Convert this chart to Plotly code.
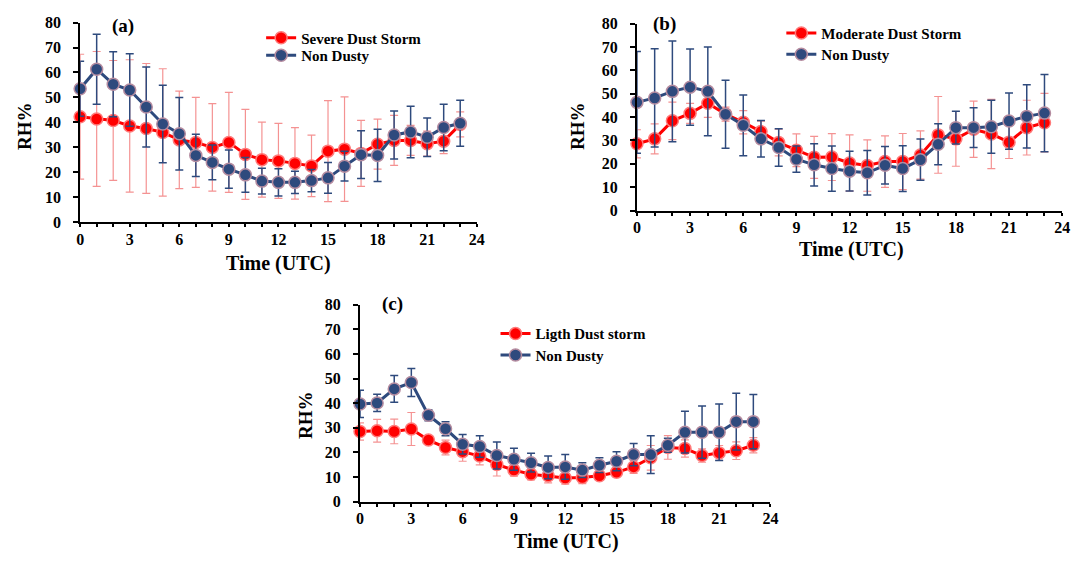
import plotly.graph_objects as go

hours = list(range(24))
x_tickvals = [0, 3, 6, 9, 12, 15, 18, 21, 24]
y_tickvals = [0, 10, 20, 30, 40, 50, 60, 70, 80]

# Panel (a)
a_severe = [42.3, 41.4, 40.8, 38.6, 37.6, 36.0, 33.0, 32.0, 30.0, 32.0, 27.2, 25.1,
            24.6, 23.6, 22.6, 28.5, 29.3, 27.6, 31.3, 32.8, 32.8, 31.5, 32.5, 39.2]
a_severe_err = [25, 27, 24, 26.5, 26, 25.5, 19.5, 18, 17.5, 20, 18, 15,
                15, 14.3, 12.3, 20.2, 20.9, 13.2, 10, 10, 6, 5, 5, 5]
a_non = [53.5, 61.3, 55.3, 53.0, 46.2, 39.4, 35.5, 26.8, 24.0, 21.3, 19.0, 16.5,
         16.0, 16.0, 16.7, 17.8, 22.5, 27.1, 26.8, 35.0, 36.2, 34.1, 38.0, 39.7]
a_non_err = [11, 14, 13, 14.5, 16, 15.5, 14.5, 8.5, 7, 7.7, 7, 5.2,
             5.5, 4.5, 4.5, 6.2, 6, 9.6, 10.5, 9.6, 10.3, 7.7, 9.3, 9.2]

# Panel (b)
b_mod = [28.6, 30.7, 38.4, 41.6, 45.9, 41.3, 37.8, 33.8, 29.1, 25.8, 22.8, 22.9,
         20.4, 19.3, 21.0, 21.0, 23.8, 32.4, 30.7, 34.8, 32.8, 29.3, 35.5, 37.6]
b_mod_err = [6, 6.4, 8, 4.3, 6, 3, 5, 4.5, 5.7, 7, 9, 10,
             12, 11, 11, 12, 10.3, 16.4, 11.7, 12, 14.8, 7, 11.7, 12.5]
b_non = [46.3, 48.2, 51.0, 52.8, 51.0, 41.2, 36.5, 30.7, 27.0, 22.0, 19.6, 18.0,
         16.9, 16.2, 19.4, 18.0, 21.8, 28.4, 35.5, 35.5, 35.9, 38.3, 40.3, 41.7]
b_non_err = [21.7, 21, 21.5, 16.3, 19, 14.5, 13, 7.8, 8, 5.6, 9, 9.7,
             8.5, 9.5, 8, 9.8, 8.8, 8.8, 7, 8.5, 11.3, 12, 13.5, 16.5]

# Panel (c)
c_light = [28.5, 28.8, 28.5, 29.5, 25.0, 22.0, 20.3, 18.5, 15.1, 12.8, 11.1, 10.5,
           9.6, 9.8, 10.5, 11.9, 14.1, 17.8, 22.0, 21.6, 18.7, 19.8, 20.7, 22.9]
c_light_err = [3.5, 4.6, 5, 6.7, 1.5, 3, 3.9, 3.6, 4.7, 2.5, 2.3, 2.9,
               2.5, 2.5, 1.5, 2, 2.6, 5, 4.8, 3.5, 2.7, 3, 3.6, 3.1]
c_non = [39.7, 40.1, 45.8, 48.4, 35.1, 29.6, 23.3, 22.4, 18.7, 17.2, 15.8, 13.9,
         14.1, 12.8, 14.8, 16.4, 19.1, 19.1, 22.9, 28.2, 28.2, 28.2, 32.5, 32.5]
c_non_err = [5.5, 3.5, 5.4, 5.7, 2.2, 2.8, 4, 4.4, 5.5, 4.5, 3.8, 4.6,
             5, 3, 3, 3.9, 4.5, 7.7, 2.8, 8.5, 10.6, 11.5, 11.5, 11]

W, H = 1088, 562
FONT = "Liberation Serif"
RED = "#FF0000"
BLUE = "#2E4A7D"

panels = [
    dict(name="(a)", dust=a_severe, dust_err=a_severe_err, non=a_non, non_err=a_non_err,
         dust_label="Severe Dust Storm", px=(77, 478), py=(221, 15),
         legend=(260, 14, 32), label_pos=(120, 19), ytitle=(21, 122), xtitle=(278, 263)),
    dict(name="(b)", dust=b_mod, dust_err=b_mod_err, non=b_non, non_err=b_non_err,
         dust_label="Moderate Dust Storm", px=(640, 1070), py=(209, 16),
         legend=(786, 9, 31), label_pos=(668, 16), ytitle=(580, 122), xtitle=(857, 249)),
    dict(name="(c)", dust=c_light, dust_err=c_light_err, non=c_non, non_err=c_non_err,
         dust_label="Ligth Dust storm", px=(360, 775), py=(509, 306),
         legend=(497, 319, 341), label_pos=(393, 305), ytitle=(305, 420), xtitle=(569, 550)),
]

fig = go.Figure()
annotations = []
layout_extra = {}

for i, p in enumerate(panels):
    idx = "" if i == 0 else str(i + 1)
    xa, ya = "x" + idx, "y" + idx
    leg_d = "legend" + ("" if i == 0 else str(2 * i + 1))
    leg_n = "legend" + str(2 * i + 2)
    fig.add_trace(go.Scatter(
        x=hours, y=p["dust"], mode="lines+markers", name=p["dust_label"],
        xaxis=xa, yaxis=ya, legend=leg_d, cliponaxis=False,
        line=dict(color=RED, width=3),
        marker=dict(color=RED, size=12, line=dict(color="#FF7A7A", width=1.5)),
        error_y=dict(type="data", array=p["dust_err"], visible=True,
                     color="rgba(240,110,110,0.75)", thickness=1.2, width=4),
    ))
    fig.add_trace(go.Scatter(
        x=hours, y=p["non"], mode="lines+markers", name="Non Dusty",
        xaxis=xa, yaxis=ya, legend=leg_n, cliponaxis=False,
        line=dict(color=BLUE, width=3),
        marker=dict(color=BLUE, size=12, line=dict(color="#B58CA0", width=1.5)),
        error_y=dict(type="data", array=p["non_err"], visible=True,
                     color=BLUE, thickness=1.5, width=4),
    ))
    x0, x1 = p["px"]
    yb, yt = p["py"]
    layout_extra["xaxis" + idx] = dict(
        domain=[x0 / W, x1 / W], anchor=ya, range=[0, 24],
        tickvals=x_tickvals, ticks="outside", ticklen=3, tickwidth=1.5, tickcolor="black",
        minor=dict(dtick=1, ticks="outside", ticklen=3, tickwidth=1.5, tickcolor="black"),
        showline=True, linewidth=2, linecolor="black", showgrid=False, zeroline=False,
        ticklabelstandoff=-2,
        tickfont=dict(family=FONT, size=16, color="black", weight="bold"),
    )
    layout_extra["yaxis" + idx] = dict(
        domain=[1 - yb / H, 1 - yt / H], anchor=xa, range=[0, 80],
        tickvals=y_tickvals, ticks="outside", ticklen=5, tickwidth=1.5, tickcolor="black",
        showline=True, linewidth=2, linecolor="black", showgrid=False, zeroline=False,
        ticklabelstandoff=9,
        tickfont=dict(family=FONT, size=16, color="black", weight="bold"),
    )
    lx, ly1, ly2 = p["legend"]
    for leg, ly in ((leg_d, ly1), (leg_n, ly2)):
        layout_extra[leg] = dict(
            x=lx / W, y=1 - ly / H, xanchor="left", yanchor="top",
            bgcolor="rgba(0,0,0,0)", borderwidth=0, itemwidth=30,
            font=dict(family=FONT, size=15, color="black", weight="bold"),
        )
    annotations.append(dict(
        text=p["name"], x=p["label_pos"][0] / W, y=1 - p["label_pos"][1] / H,
        xref="paper", yref="paper", showarrow=False, xanchor="center", yanchor="middle",
        font=dict(family=FONT, size=19, color="black", weight="bold")))
    annotations.append(dict(
        text="RH%", x=p["ytitle"][0] / W, y=1 - p["ytitle"][1] / H, textangle=-90,
        xref="paper", yref="paper", showarrow=False, xanchor="center", yanchor="middle",
        font=dict(family=FONT, size=19, color="black", weight="bold")))
    annotations.append(dict(
        text="Time (UTC)", x=p["xtitle"][0] / W, y=1 - p["xtitle"][1] / H,
        xref="paper", yref="paper", showarrow=False, xanchor="center", yanchor="middle",
        font=dict(family=FONT, size=20, color="black", weight="bold")))

fig.update_layout(
    width=W, height=H, margin=dict(l=0, r=0, t=0, b=0),
    paper_bgcolor="white", plot_bgcolor="white",
    showlegend=True, annotations=annotations, **layout_extra,
)

fig.write_html("out.html")
